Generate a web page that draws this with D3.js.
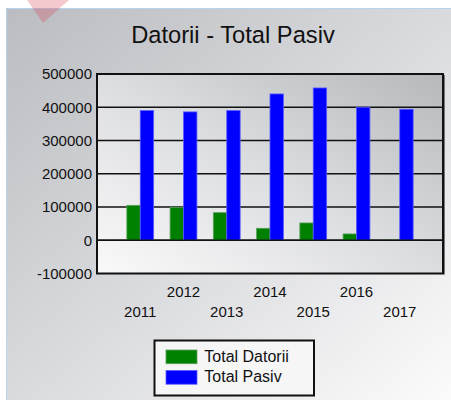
<!DOCTYPE html>
<html><head><meta charset="utf-8">
<script src="https://cdn.jsdelivr.net/npm/d3@7"></script>
<style>html,body{margin:0;padding:0;background:#fff;}svg{display:block;font-family:"Liberation Sans",Arial,sans-serif;}</style>
</head><body>
<script>
const years = ["2011","2012","2013","2014","2015","2016","2017"];
const totalDatorii = [105000, 99000, 83000, 36000, 52000, 19000, 1000];
const totalPasiv = [390000, 386000, 390000, 440000, 458000, 400000, 394000];
const yTicks = [-100000, 0, 100000, 200000, 300000, 400000, 500000];
const seriesNames = ["Total Datorii", "Total Pasiv"];
const seriesColors = ["#008000", "#0000ff"];
const titleText = "Datorii - Total Pasiv";

const W = 451, H = 400;
const svg = d3.select("body").append("svg").attr("width", W).attr("height", H);
const defs = svg.append("defs");
const g1 = defs.append("linearGradient").attr("id","panelGrad").attr("x1","0").attr("y1","0").attr("x2","1").attr("y2","1");
g1.append("stop").attr("offset","0").attr("stop-color","#babcc1");
g1.append("stop").attr("offset","0.5").attr("stop-color","#d9dadd");
g1.append("stop").attr("offset","1").attr("stop-color","#fbfbfb");
const g2 = defs.append("linearGradient").attr("id","plotGrad").attr("x1","0").attr("y1","1").attr("x2","1").attr("y2","0");
g2.append("stop").attr("offset","0").attr("stop-color","#f9f9f9");
g2.append("stop").attr("offset","0.5").attr("stop-color","#dcdde0");
g2.append("stop").attr("offset","1").attr("stop-color","#b6b8bc");

// panel
svg.append("rect").attr("x",6).attr("y",8).attr("width",W-6).attr("height",H-8)
  .attr("fill","url(#panelGrad)");
svg.append("path").attr("d",`M6.5,${H} V8.5 H${W}`).attr("fill","none").attr("stroke","#b9d3ee").attr("stroke-width",1);
// decorative watermark triangle
svg.append("path").attr("d","M27,0 L69,0 L43,23 Z").attr("fill","rgba(215,60,80,0.28)");

const L = 97, R = 443, T = 74, B = 273.5;
const x = d3.scaleLinear().domain([0, years.length + 1]).range([L, R]);
const y = d3.scaleLinear().domain([-100000, 500000]).range([B, T]);

// plot background
svg.append("rect").attr("x",L).attr("y",T).attr("width",R-L).attr("height",B-T).attr("fill","url(#plotGrad)");

// gridlines
svg.append("g").selectAll("line").data(yTicks.filter(d=>d>-100000 && d<500000)).join("line")
  .attr("x1",L).attr("x2",R).attr("y1",d=>y(d)).attr("y2",d=>y(d))
  .attr("stroke","#111").attr("stroke-width",1.6);

// bars
const bw = (x(1)-x(0))*0.31;
const series = [totalDatorii, totalPasiv];
series.forEach((vals, si) => {
  svg.append("g").selectAll("rect").data(vals).join("rect")
    .attr("x",(d,i)=> si===0 ? x(i+1)-bw : x(i+1))
    .attr("width",bw)
    .attr("y",d=>y(Math.max(0,d)))
    .attr("height",d=>Math.abs(y(d)-y(0)))
    .attr("fill",seriesColors[si])
    .attr("stroke", si===0 ? "#5aa05a" : "#5a5aff").attr("stroke-width",0.8);
});

// zero line on top
svg.append("line").attr("x1",L).attr("x2",R).attr("y1",y(0)).attr("y2",y(0)).attr("stroke","#111").attr("stroke-width",1.6);

// plot border
svg.append("rect").attr("x",L).attr("y",T).attr("width",R-L).attr("height",B-T)
  .attr("fill","none").attr("stroke","#111").attr("stroke-width",2);
svg.append("line").attr("x1",R+1.5).attr("x2",R+1.5).attr("y1",T+1).attr("y2",B+1).attr("stroke","#777").attr("stroke-width",1);

// y axis labels
const yAxis = d3.axisLeft(y).tickValues(yTicks).tickSize(0).tickPadding(5).tickFormat(d => String(d));
const ya = svg.append("g").attr("transform",`translate(${L},0)`).call(yAxis);
ya.select(".domain").remove();
ya.selectAll("text").attr("font-size",15).attr("fill","#111").attr("font-family","'Liberation Sans',Arial,sans-serif");

// x labels (staggered)
svg.append("g").selectAll("text").data(years).join("text")
  .attr("x",(d,i)=>x(i+1)).attr("y",(d,i)=> i%2===0 ? 317 : 296.5)
  .attr("text-anchor","middle").attr("font-size",15).attr("fill","#111").text(d=>d);

// title
svg.append("text").attr("x",233).attr("y",43.3).attr("text-anchor","middle")
  .attr("font-size",23.7).attr("fill","#111").text(titleText);

// legend
const lg = svg.append("g");
lg.append("rect").attr("x",154.5).attr("y",340.5).attr("width",159.5).attr("height",55)
  .attr("fill","#f6f6f7").attr("stroke","#111").attr("stroke-width",2);
seriesNames.forEach((n,i)=>{
  lg.append("rect").attr("x",166).attr("y",350+i*20.5).attr("width",31).attr("height",13.7).attr("fill",seriesColors[i])
    .attr("stroke", i===0 ? "#5aa05a" : "#5a5aff").attr("stroke-width",0.8);
  lg.append("text").attr("x",204.3).attr("y",361.7+i*20.6).attr("font-size",16).attr("fill","#111").text(n);
});
</script>
</body></html>
